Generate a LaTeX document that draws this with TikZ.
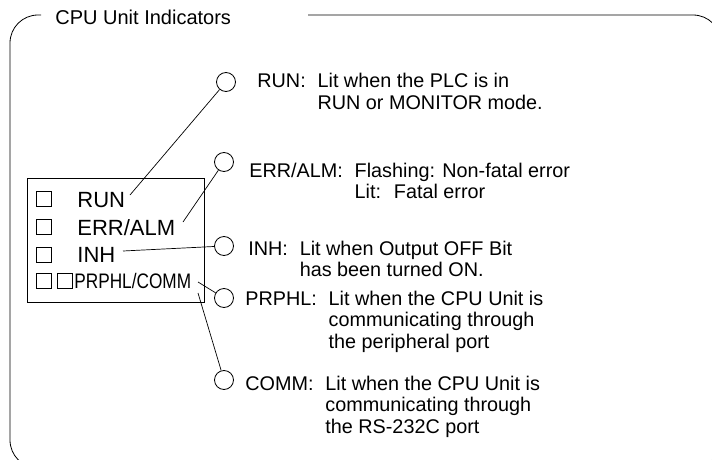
\documentclass[tikz,border=0pt]{standalone}
\usepackage{fontspec}
\setmainfont{Liberation Sans}
\newcommand{\lines}[1]{\begin{tabular}[t]{@{}l@{}}#1\end{tabular}}
\begin{document}
\begin{tikzpicture}[x=1pt,y=-1pt,line width=0.8pt,
  lamp/.style={circle,draw,minimum size=19pt,inner sep=0pt,line width=0.8pt},
  sq/.style={draw,minimum size=15pt,inner sep=0pt,line width=0.7pt},
  big/.style={font=\fontsize{22}{24}\selectfont,anchor=base west,inner sep=0pt},
  desc/.style={font=\fontsize{19.8}{21.8}\selectfont,anchor=base west,inner sep=0pt},
  wire/.style={line width=0.7pt}]
\useasboundingbox (0,0) rectangle (712,460);
% outer frame
\draw[rounded corners=28pt] (308,15) -- (721,15) -- (721,468) -- (10,468) -- (10,15) -- (41,15);
\node[font=\fontsize{20}{22}\selectfont,anchor=base west,inner sep=0pt] (title) at (55,25) {CPU Unit Indicators};
% panel
\node[draw,line width=0.8pt,anchor=north west,minimum width=177pt,minimum height=124pt,inner sep=0pt] (panel) at (27,178) {};
\node[sq] (s1) at (43.5,198.5) {};
\node[sq] (s2) at (43.5,226.5) {};
\node[sq] (s3) at (43.5,254.5) {};
\node[sq] (s4) at (43.5,280.5) {};
\node[sq] (s5) at (65,280.5) {};
\node[big] (t1) at (77,207) {RUN};
\node[big] (t2) at (77,235) {ERR/ALM};
\node[big] (t3) at (77,262) {INH};
\node[big,font=\fontsize{21}{23}\selectfont] (t4) at (74,288) {\scalebox{0.82}[1]{PRPHL/COMM}};
% connector ends
\coordinate (e1) at (130,195);
\coordinate (e2) at (183,222);
\coordinate (e3) at (123,251);
\coordinate (e4) at (198,282);
\coordinate (e5) at (198,293);
% lamps
\node[lamp] (c1) at (226,82) {};
\node[lamp] (c2) at (224,162) {};
\node[lamp] (c3) at (224,246) {};
\node[lamp] (c4) at (224,298) {};
\node[lamp] (c5) at (224,380) {};
\draw[wire] (e1) -- (c1);
\draw[wire] (e2) -- (c2);
\draw[wire] (e3) -- (c3);
\draw[wire] (e4) -- (c4);
\draw[wire] (e5) -- (c5);
% descriptions
\node[desc] (l1) at (257,88) {RUN:};
\node[desc] (d1) at ([xshift=11pt]l1.base east) {\lines{Lit when the PLC is in\\RUN or MONITOR mode.}};
\node[desc] (l2) at (249,177) {ERR/ALM:};
\node[desc] (d2) at ([xshift=11pt]l2.base east) {\lines{Flashing: Non-fatal error\\Lit: \ Fatal error}};
\node[desc] (l3) at (248,255) {INH:};
\node[desc] (d3) at ([xshift=11pt]l3.base east) {\lines{Lit when Output OFF Bit\\has been turned ON.}};
\node[desc] (l4) at (245,305) {PRPHL:};
\node[desc] (d4) at ([xshift=11pt]l4.base east) {\lines{Lit when the CPU Unit is\\communicating through\\the peripheral port}};
\node[desc] (l5) at (245,390) {COMM:};
\node[desc] (d5) at ([xshift=11pt]l5.base east) {\lines{Lit when the CPU Unit is\\communicating through\\the RS-232C port}};
\end{tikzpicture}
\end{document}
